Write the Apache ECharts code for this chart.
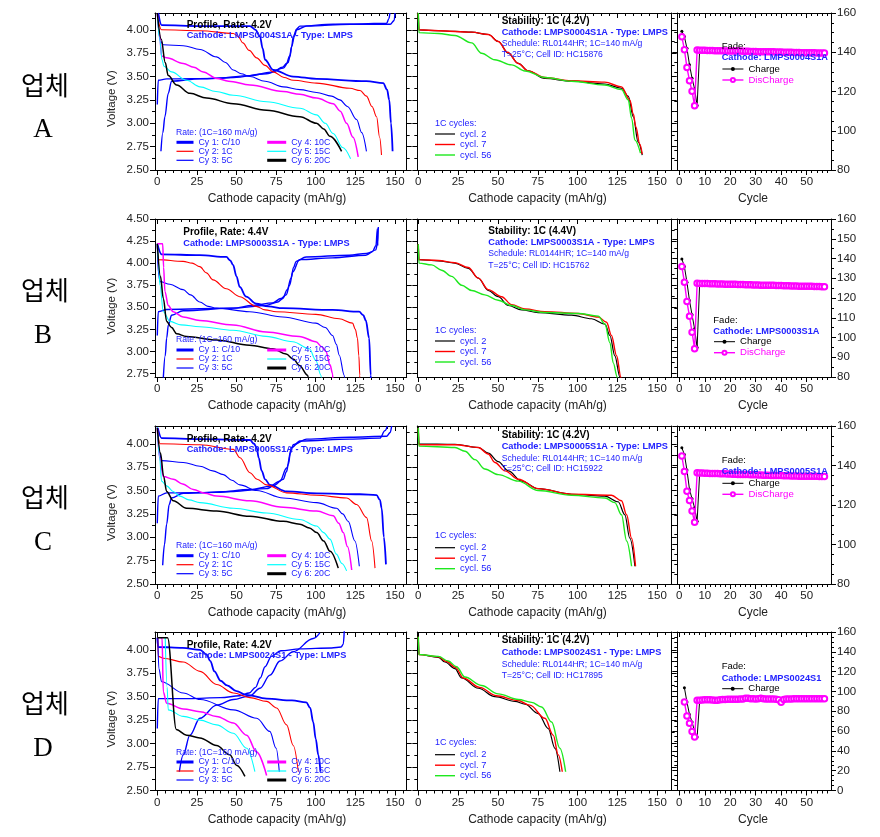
<!DOCTYPE html>
<html><head><meta charset="utf-8">
<script src="https://cdn.jsdelivr.net/npm/echarts@6/dist/echarts.min.js"></script>
<style>html,body{margin:0;padding:0;background:#fff}#c{width:880px;height:837px}</style>
</head><body><div id="c"></div><script>
// ================= DATA =================
const profileNames = ['Cy 1: C/10','Cy 2: 1C','Cy 3: 5C','Cy 4: 10C','Cy 5: 15C','Cy 6: 20C'];
const stabilityNames = ['cycl. 2','cycl. 7','cycl. 56'];
const fadeNames = ['Charge','DisCharge'];
const rowLetters = ['A','B','C','D'];
const cathodes = ['LMPS0004S1A','LMPS0003S1A','LMPS0005S1A','LMPS0024S1'];
const rateV = ['4.2V','4.4V','4.2V','4.2V'];
const cellIds = ['HC15876','HC15762','HC15922','HC17895'];
const xTicksCap = [0,25,50,75,100,125,150];
const yTicksV_A = [2.50,2.75,3.00,3.25,3.50,3.75,4.00];
const yTicksV_B = [2.75,3.00,3.25,3.50,3.75,4.00,4.25,4.50];
const xTicksCycle = [0,10,20,30,40,50];
const yTicksFade_A = [80,100,120,140,160];
const yTicksFade_B = [80,90,100,110,120,130,140,150,160];
const yTicksFade_D = [0,20,40,60,80,100,120,140,160];

// ---- Row A profile ----
const A_cy1_dis = [[0.6,4.18],[2.7,4.05],[27,4.04],[58.5,4.04],[62,4.0],[64.8,3.93],[66.5,3.8],[68,3.68],[73.2,3.57],[85.8,3.50],[100.5,3.475],[132,3.45],[142.6,3.43],[145,3.36],[146.4,3.25],[147.5,3.0],[148.5,2.70]];
const A_cy1_chg = [[0,3.20],[0.6,3.46],[5.9,3.475],[37.4,3.48],[58.5,3.51],[73.2,3.55],[79,3.60],[81.6,3.64],[83.5,3.72],[84.8,3.82],[86.5,3.93],[88,4.0],[94.2,4.04],[121.6,4.06],[144.7,4.07],[146.2,4.12],[146.8,4.18]];
const A_cy3_chg = [[2.3,2.70],[3.5,2.9],[4.8,3.07],[6.9,3.32],[9,3.45],[27,3.475],[48,3.49],[69,3.53],[79.5,3.59],[82.5,3.65],[83.7,3.71],[84.8,3.82],[85.8,3.93],[88,4.01],[90,4.04],[111,4.06],[147,4.06],[149.5,4.1],[150,4.18]];
const A_cy2 = [[0.3,4.12],[2.7,4.0],[27,3.99],[48,3.96],[51,3.93],[54,3.86],[58,3.78],[62.7,3.70],[68,3.62],[73.2,3.55],[80,3.49],[85.8,3.46],[100.5,3.43],[121.6,3.375],[128,3.35],[132,3.29],[135.5,3.18],[138.4,3.07],[140.3,2.85],[141.5,2.66]];
const A_cy3 = [[0.3,4.1],[2,3.88],[3.8,3.84],[16.4,3.83],[27,3.79],[37.4,3.71],[43,3.65],[48,3.57],[53,3.53],[58.5,3.50],[68,3.45],[79.5,3.39],[90,3.36],[100.5,3.33],[110,3.29],[115.2,3.25],[120,3.18],[125.8,3.04],[129,2.9],[132,2.70]];
const A_cy4 = [[0,4.18],[1.5,3.95],[2.7,3.72],[5.9,3.70],[16.4,3.64],[23,3.60],[29,3.55],[37.4,3.48],[45,3.45],[58.5,3.41],[79.5,3.34],[90,3.31],[100.5,3.27],[111,3.21],[115.5,3.13],[119.5,3.0],[123.5,2.85],[126.8,2.64]];
const A_cy5 = [[0,4.18],[1.5,3.9],[3,3.68],[4.2,3.61],[9,3.55],[18.5,3.46],[27,3.39],[37,3.34],[48,3.30],[69,3.23],[90,3.16],[100.5,3.09],[106,3.0],[111,2.89],[117,2.74],[122,2.62]];
const A_cy6 = [[0,4.18],[2.5,3.9],[5,3.65],[6.9,3.51],[12.2,3.41],[20.6,3.32],[31.1,3.27],[48,3.21],[69,3.14],[90,3.07],[100.5,3.0],[105,2.94],[109,2.86],[116.3,2.70]];
// ---- Row A stability ----
const A_s2 = [[0,4.18],[0.4,4.0],[12.6,3.99],[33.5,3.975],[44,3.95],[50.2,3.875],[56.5,3.75],[62.8,3.64],[69,3.56],[79.5,3.48],[96.2,3.45],[117,3.42],[127.6,3.375],[131.8,3.29],[135,3.07],[138,2.80],[140.6,2.66]];
const A_s7 = [[0,4.18],[0.4,4.0],[12.6,3.99],[33.5,3.975],[44,3.95],[50.2,3.875],[56,3.76],[62.8,3.64],[69,3.56],[79.5,3.49],[96.2,3.455],[117,3.44],[127.6,3.39],[132.8,3.25],[135,3.10],[136.6,2.96],[139,2.78],[140.6,2.67]];
const A_s56 = [[0,4.18],[0.4,3.97],[12.6,3.96],[23,3.94],[33.5,3.86],[39.7,3.75],[48,3.68],[58.6,3.625],[67,3.56],[79.5,3.49],[96.2,3.45],[117,3.41],[127.6,3.36],[131.8,3.25],[134,3.05],[136,2.82],[139.5,2.68]];
// ---- Row A fade (cycles 1..57) ----
const A_fadeStart = 1;
const A_chg = [150.7,148.0,142.0,133.6,126.8,121.3,112.9,141.2,
 141.1,141.1,141.0,141.0,141.0,140.9,140.9,140.9,140.8,140.8,
 140.8,140.8,140.7,140.7,140.7,140.6,140.6,140.6,140.6,140.5,
 140.5,140.5,140.4,140.4,140.4,140.4,140.3,140.3,140.3,140.2,
 140.2,140.2,140.1,140.1,140.1,140.0,140.0,140.0,139.9,139.9,
 139.9,139.9,139.8,139.8,139.8,139.7,139.7,139.7,139.7];
const A_dis = [147.9,141.3,132.2,125.5,120.1,112.7,141.1,
 141.0,141.0,141.0,140.9,140.9,140.9,140.8,140.8,140.8,140.8,
 140.7,140.7,140.7,140.6,140.6,140.6,140.6,140.5,140.5,140.5,
 140.4,140.4,140.4,140.3,140.3,140.3,140.3,140.2,140.2,140.2,
 140.1,140.1,140.1,140.0,140.0,140.0,140.0,139.9,139.9,139.9,
 139.8,139.8,139.8,139.7,139.7,139.7,139.6,139.6,139.6,139.6];

// ---- Row B profile ----
const B_cy1_dis = [[0,4.22],[2.7,4.10],[26.8,4.09],[43.6,4.07],[46,4.03],[47.8,3.98],[50,3.85],[52,3.73],[56.1,3.62],[62.4,3.54],[70,3.51],[79.2,3.49],[110.6,3.47],[127.4,3.45],[130,3.41],[131.6,3.35],[133.7,3.15],[134.7,2.73],[135,2.6]];
const B_cy1_chg = [[0,3.18],[0.6,3.45],[5.9,3.475],[47.8,3.49],[68.7,3.52],[76,3.56],[79.2,3.60],[82,3.70],[84.4,3.83],[86,3.95],[87.6,4.02],[93.9,4.07],[121.1,4.09],[132,4.11],[135.8,4.13],[138,4.2],[138.9,4.39],[139.1,4.2]];
const B_cy3_chg = [[3.8,2.70],[5,2.95],[5.9,3.15],[7,3.3],[9,3.41],[16.3,3.46],[47.8,3.49],[60,3.52],[72.9,3.55],[78,3.60],[81.3,3.64],[83.5,3.75],[85.5,3.90],[89.7,4.04],[110.6,4.06],[131.6,4.09],[137.9,4.15],[139.2,4.25],[139.5,4.41]];
const B_cy2 = [[0,4.2],[0.6,4.04],[16.3,4.02],[22,4.0],[26.8,3.96],[31,3.89],[35.2,3.81],[43.6,3.71],[52,3.62],[62.4,3.51],[68,3.47],[75,3.45],[100.1,3.42],[114.8,3.37],[123.2,3.32],[125,3.25],[126.3,3.15],[127.2,2.95],[127.8,2.73],[128,2.6]];
const B_cy3 = [[0,4.2],[0.6,3.90],[1.7,3.79],[8,3.76],[16.3,3.70],[21,3.64],[26.8,3.56],[32,3.51],[37.3,3.49],[58.2,3.45],[79.2,3.39],[100.1,3.32],[106,3.27],[110.6,3.18],[113,3.08],[114.8,2.96],[118,2.73],[118.5,2.6]];
const B_cy4 = [[0,4.22],[3.4,4.22],[4.0,3.95],[4.8,3.68],[6.9,3.52],[10,3.45],[16.3,3.39],[26.8,3.35],[47.8,3.30],[68.7,3.22],[89.7,3.17],[100.1,3.11],[104,3.05],[106.4,3.0],[109,2.85],[110.6,2.75],[111,2.6]];
const B_cy5 = [[0,4.21],[0.8,4.0],[1.7,3.75],[3.8,3.45],[8,3.34],[15,3.30],[26.8,3.28],[47.8,3.24],[68.7,3.17],[85.5,3.11],[96,3.03],[100,2.9],[103.3,2.73],[104,2.6]];
const B_cy6 = [[0,4.22],[2,3.85],[3.8,3.60],[5.9,3.34],[9,3.27],[12.2,3.20],[18.4,3.17],[37.3,3.13],[58.2,3.07],[72.9,3.03],[81.3,2.97],[86,2.91],[89.7,2.84],[94.9,2.73],[96,2.6]];
// ---- Row B stability ----
const B_s2 = [[0,4.215],[0.4,4.04],[12.6,4.025],[23,4.0],[31.4,3.94],[37.7,3.83],[43.9,3.69],[50.2,3.62],[56.5,3.52],[64.9,3.47],[75.3,3.44],[96.2,3.41],[108.8,3.37],[117.2,3.31],[120.3,3.18],[123.4,2.95],[126.6,2.71],[127,2.6]];
const B_s7 = [[0,4.215],[0.4,4.04],[12.6,4.03],[23,4.005],[31.4,3.95],[37.7,3.83],[43.9,3.70],[52.3,3.62],[58.6,3.53],[67,3.48],[79.5,3.45],[100.4,3.43],[113,3.39],[118.2,3.33],[121.3,3.18],[124.5,2.95],[127.2,2.71],[127.6,2.6]];
const B_s56 = [[0,4.215],[0.4,4.0],[8.4,3.98],[14.6,3.92],[20.9,3.85],[27.2,3.75],[33.5,3.69],[41.8,3.64],[50.2,3.58],[58.6,3.52],[67,3.47],[79.5,3.44],[100.4,3.43],[113,3.40],[117.2,3.31],[120.3,3.10],[122.4,2.87],[124.9,2.71],[125.3,2.6]];
// ---- Row B fade ----
const B_fadeStart = 1;
const B_chg = [139.8,135.9,128.0,118.7,111.5,104.4,95.0,127.5,
 127.4,127.4,127.3,127.3,127.3,127.2,127.2,127.2,127.1,127.1,
 127.1,127.0,127.0,127.0,126.9,126.9,126.9,126.8,126.8,126.8,
 126.7,126.7,126.7,126.6,126.6,126.6,126.5,126.5,126.5,126.4,
 126.4,126.4,126.3,126.3,126.3,126.2,126.2,126.2,126.1,126.1,
 126.1,126.0,126.0,126.0,125.9,125.9,125.9,125.8,125.8];
const B_dis = [135.9,128.0,118.2,110.7,102.7,94.3,127.5,
 127.4,127.4,127.3,127.3,127.2,127.2,127.2,127.1,127.1,127.1,
 127.0,127.0,126.9,126.9,126.9,126.8,126.8,126.8,126.7,126.7,
 126.7,126.6,126.6,126.6,126.5,126.5,126.5,126.4,126.4,126.4,
 126.3,126.3,126.3,126.2,126.2,126.2,126.1,126.1,126.1,126.0,
 126.0,126.0,125.9,125.9,125.9,125.8,125.8,125.8,125.7,125.7];

// ---- Row C profile ----
const C_cy1_dis = [[0.3,4.17],[2.7,4.06],[26.9,4.05],[58.5,4.04],[61,4.0],[62.7,3.96],[64,3.85],[65.9,3.71],[68,3.62],[71.1,3.56],[81.6,3.49],[100.6,3.47],[127.9,3.46],[138.4,3.45],[140.5,3.40],[141.6,3.31],[143,3.0],[144.3,2.71]];
const C_cy1_chg = [[0,3.15],[0.6,3.44],[5.9,3.475],[37.4,3.48],[58.5,3.51],[73.2,3.55],[79.5,3.62],[81.5,3.70],[82.7,3.78],[84,3.90],[85.8,3.99],[94.3,4.05],[121.6,4.07],[144.7,4.08],[147,4.12],[147.9,4.19]];
const C_cy3_chg = [[3.4,2.70],[4.5,2.92],[5.9,3.14],[7.5,3.35],[9,3.42],[16.4,3.47],[48,3.49],[69,3.52],[77.4,3.60],[81.6,3.74],[84.8,3.96],[90,4.03],[121.6,4.05],[140.5,4.06],[143.7,4.14],[145.2,4.19]];
const C_cy2 = [[0.3,4.12],[1.7,4.0],[26.9,3.99],[48,3.94],[52.2,3.85],[58.5,3.69],[63,3.62],[69,3.56],[81.6,3.475],[100.6,3.45],[119.5,3.42],[125.8,3.35],[132.1,3.21],[135.3,2.96],[137.4,2.67]];
const C_cy3 = [[0.3,4.1],[1.5,3.9],[2.7,3.82],[16.4,3.80],[26.9,3.76],[35,3.71],[41.7,3.67],[47,3.61],[52.2,3.56],[62.7,3.50],[79.5,3.42],[100.6,3.37],[113.2,3.31],[117,3.25],[120.5,3.17],[124.7,2.96],[127.5,2.69]];
const C_cy4 = [[0,4.18],[1.5,3.85],[3.8,3.65],[10.1,3.62],[16,3.57],[22.7,3.51],[30,3.47],[37.4,3.44],[58.5,3.39],[79.5,3.32],[100.6,3.28],[111,3.23],[114.5,3.15],[117.4,3.05],[120,2.9],[122.7,2.65]];
const C_cy5 = [[0,4.18],[1.5,3.85],[2.7,3.60],[5.9,3.55],[10,3.49],[14.3,3.44],[20,3.40],[26.9,3.37],[48,3.31],[69,3.26],[90,3.19],[100.6,3.12],[105,3.05],[109,2.98],[113,2.82],[116.5,2.72],[119.5,2.64]];
const C_cy6 = [[0,4.17],[2,3.9],[4,3.65],[5.9,3.49],[10.1,3.39],[18.5,3.31],[37.4,3.28],[58.5,3.225],[79.5,3.17],[90,3.14],[96,3.1],[100.6,3.05],[105,2.96],[109,2.85],[114.2,2.67]];
// ---- Row C stability ----
const C_s2 = [[0,4.17],[0.4,4.0],[23,3.995],[37.7,3.96],[43.9,3.90],[50.2,3.81],[56.5,3.71],[64.9,3.60],[75.3,3.52],[96.2,3.46],[117.2,3.44],[125.5,3.38],[129.7,3.24],[132.8,2.99],[136,2.69]];
const C_s7 = [[0,4.17],[0.4,3.99],[23,3.99],[37.7,3.96],[43.9,3.89],[48.1,3.80],[54.4,3.71],[62.8,3.62],[75.3,3.52],[96.2,3.46],[121.3,3.45],[127.6,3.39],[130.8,3.24],[133.9,2.99],[136.4,2.69]];
const C_s56 = [[0,4.17],[0.4,3.975],[23,3.96],[29.3,3.92],[35.6,3.83],[41.8,3.73],[50.2,3.67],[62.8,3.60],[75.3,3.50],[96.2,3.45],[117.2,3.42],[123.4,3.37],[127.6,3.24],[130.8,2.96],[133.9,2.69]];
// ---- Row C fade ----
const C_fadeStart = 1;
const C_chg = [149.0,145.6,137.7,127.9,123.2,118.6,111.8,136.3,
 136.3,136.2,136.2,136.1,136.1,136.0,136.0,135.9,135.9,135.9,
 135.8,135.8,135.7,135.7,135.6,135.6,135.6,135.5,135.5,135.4,
 135.4,135.4,135.3,135.3,135.2,135.2,135.2,135.1,135.1,135.0,
 135.0,135.0,134.9,134.9,134.9,134.8,134.8,134.8,134.7,134.7,
 134.7,134.7,134.6,134.6,134.6,134.6,134.5,134.5,134.5];
const C_dis = [144.8,137.0,126.9,122.3,116.9,111.3,136.3,
 136.2,136.2,136.1,136.1,136.0,136.0,135.9,135.9,135.8,135.8,
 135.8,135.7,135.7,135.6,135.6,135.5,135.5,135.5,135.4,135.4,
 135.3,135.3,135.3,135.2,135.2,135.1,135.1,135.1,135.0,135.0,
 134.9,134.9,134.9,134.8,134.8,134.8,134.7,134.7,134.7,134.6,
 134.6,134.6,134.6,134.5,134.5,134.5,134.5,134.4,134.4,134.4];

// ---- Row D profile ----
const D_cy1_dis = [[0,4.13],[0.5,4.03],[16,4.02],[27,4.0],[31,3.95],[33.5,3.88],[36,3.77],[40,3.67],[44,3.62],[50,3.56],[56,3.52],[69,3.48],[85,3.46],[94,3.44],[96.5,3.38],[98.4,3.23],[100,3.05],[101.6,2.88],[103,2.70]];
const D_cy1_chg = [[0,3.16],[0.6,3.48],[20,3.48],[40,3.49],[52,3.51],[58,3.54],[62,3.60],[65,3.70],[68,3.82],[72,3.93],[78,3.99],[90,4.01],[110,4.02],[116,4.03],[117.4,4.06],[118,4.2]];
const D_cy3_chg = [[13.9,2.70],[16.4,2.88],[20.6,3.09],[26.9,3.27],[37.4,3.41],[48,3.47],[58.5,3.51],[64.8,3.59],[71.1,3.73],[77.4,3.88],[85.8,3.98],[98.4,4.12],[102.6,4.18]];
const D_cy2 = [[0.3,4.13],[0.6,3.93],[3.8,3.91],[16.4,3.87],[27,3.77],[37.4,3.63],[48,3.54],[58.5,3.49],[69,3.45],[75.3,3.38],[81.6,3.20],[85.8,2.98],[89,2.70]];
const D_cy3 = [[0.3,4.13],[1,3.8],[2.7,3.66],[16.4,3.54],[27,3.47],[48,3.36],[62.7,3.27],[71,3.13],[75,2.95],[77,2.70]];
const D_cy4 = [[2,4.13],[3,4.13],[3.8,3.55],[5.9,3.43],[16.4,3.37],[26.9,3.34],[37.4,3.29],[48,3.22],[56.4,3.09],[62.7,2.91],[69,2.66]];
const D_cy5 = [[5,4.13],[6.2,3.6],[6.9,3.36],[16.4,3.29],[26.9,3.25],[37.4,3.20],[48,3.11],[56.4,2.95],[61.6,2.70]];
const D_cy6 = [[0,4.13],[6.5,4.13],[12,3.15],[18.5,3.09],[26.9,3.06],[37.4,2.98],[45.8,2.88],[50,2.77],[55.3,2.65]];
// ---- Row D stability ----
const D_s2 = [[0,4.14],[0.4,3.95],[12.6,3.92],[16.7,3.87],[23,3.80],[27.2,3.70],[37.7,3.59],[48.1,3.50],[60.7,3.45],[67,3.42],[75.3,3.32],[81.6,3.16],[85.8,2.95],[88.9,2.70]];
const D_s7 = [[0,4.14],[0.4,3.95],[12.6,3.925],[17.8,3.875],[23.5,3.81],[28.2,3.70],[38.5,3.60],[49,3.51],[62.5,3.46],[70.1,3.41],[79.5,3.27],[84.7,3.09],[87.9,2.88],[90.4,2.70]];
const D_s56 = [[0,4.14],[0.4,3.95],[12.6,3.93],[18.8,3.88],[24,3.82],[29.3,3.71],[39.7,3.62],[50.2,3.53],[62.8,3.47],[71.1,3.44],[77.4,3.39],[83.7,3.23],[88.9,2.95],[92.5,2.70]];
// ---- Row D fade (cycles 2..57) ----
const D_fadeStart = 2;
const D_chg = [103.8,89.3,76.8,69.1,60.0,53.9,91.0,
 91.2,91.4,91.5,91.6,91.6,91.5,91.3,91.4,91.7,91.9,
 92.0,92.1,92.1,92.2,92.2,92.3,92.3,92.6,93.2,92.8,
 92.5,92.4,92.6,93.1,92.8,92.4,92.3,92.5,92.4,92.3,
 92.0,91.2,92.0,92.3,92.4,92.4,92.5,92.5,92.5,92.6,
 92.6,92.6,92.6,92.6,92.7,92.7,92.7,92.7,92.7];
const D_dis = [89.3,75.1,68.0,59.6,53.9,91.0,
 91.1,91.3,91.5,91.6,91.6,91.4,91.0,91.2,91.6,91.8,
 91.9,92.0,92.1,92.1,92.2,92.2,92.3,92.4,93.0,93.2,
 92.7,92.5,92.4,92.7,93.2,92.6,92.4,92.3,92.4,92.3,
 92.2,91.5,89.2,91.8,92.3,92.3,92.4,92.5,92.5,92.5,
 92.6,92.6,92.6,92.6,92.7,92.7,92.7,92.7,92.7,92.7];

// ================= STYLE / LAYOUT =================
const FONT = "'Liberation Sans', Arial, sans-serif";
const TXT_BLUE = '#2222ff';
const profStyles = [
  {c:'#0000ff', w:1.8},{c:'#ff0000', w:1.1},{c:'#0000ff', w:1.1},
  {c:'#ff00ff', w:1.5},{c:'#00ffff', w:1.1},{c:'#000000', w:1.5}];
const chargeWidth = 1.4;
const stabStyles = [{c:'#000000', w:1.2},{c:'#ff0000', w:1.4},{c:'#1ee81e', w:1.4}];

const rows = [
  {top:13,  height:157, vmin:2.5,  vmax:4.18, vTicks:yTicksV_A, fmin:80, fmax:160, fTicks:yTicksFade_A,
   prof:[A_cy1_dis,A_cy2,A_cy3,A_cy4,A_cy5,A_cy6], chg:[A_cy1_chg,A_cy3_chg], stab:[A_s2,A_s7,A_s56],
   fadeStart:A_fadeStart, fchg:A_chg, fdis:A_dis},
  {top:219, height:158, vmin:2.71, vmax:4.5, vTicks:yTicksV_B, fmin:80, fmax:160, fTicks:yTicksFade_B,
   prof:[B_cy1_dis,B_cy2,B_cy3,B_cy4,B_cy5,B_cy6], chg:[B_cy1_chg,B_cy3_chg], stab:[B_s2,B_s7,B_s56],
   fadeStart:B_fadeStart, fchg:B_chg, fdis:B_dis},
  {top:426, height:158, vmin:2.5, vmax:4.19, vTicks:yTicksV_A, fmin:80, fmax:160, fTicks:yTicksFade_A,
   prof:[C_cy1_dis,C_cy2,C_cy3,C_cy4,C_cy5,C_cy6], chg:[C_cy1_chg,C_cy3_chg], stab:[C_s2,C_s7,C_s56],
   fadeStart:C_fadeStart, fchg:C_chg, fdis:C_dis},
  {top:632, height:158.5, vmin:2.5, vmax:4.19, vTicks:yTicksV_A, fmin:0, fmax:160, fTicks:yTicksFade_D,
   prof:[D_cy1_dis,D_cy2,D_cy3,D_cy4,D_cy5,D_cy6], chg:[D_cy1_chg,D_cy3_chg], stab:[D_s2,D_s7,D_s56],
   fadeStart:D_fadeStart, fchg:D_chg, fdis:D_dis}
];
const cols = {
  p:{left:155,   width:251.7, min:-1.45, max:157.4},
  s:{left:417.3, width:254.4, min:-0.63, max:159.1},
  f:{left:677.3, width:153.7, min:-0.79, max:59.57}
};
const txt = [
  {p:[186.7,25,35.7], rate:[176,132.3], pl:137.8, s:[501.7,21.7,32.7,44,54.3], cyc:[435,123.3], sl:129.5, f:[721.7,46.7,57.7], fl:63.5, vName:98.5, xName:198.3, lab:[85,130]},
  {p:[183.3,232.3,243.3], rate:[176,339.3], pl:345.5, s:[488.3,231,242.3,254,265.7], cyc:[435,331], sl:336.5, f:[713.3,320,331], fl:336.2, vName:306, xName:406, lab:[290,336]},
  {p:[186.7,439,449.3], rate:[176,546], pl:551.2, s:[501.7,435.7,446.7,458.3,468.3], cyc:[435,535.7], sl:543.2, f:[721.7,460,471.7], fl:477.8, vName:512.5, xName:612.3, lab:[497,543]},
  {p:[186.7,645.3,655.3], rate:[176,753], pl:757.5, s:[501.7,640.3,652.7,664.3,675.3], cyc:[435,742.7], sl:750.2, f:[721.7,666.3,678.7], fl:683.2, vName:719, xName:819.3, lab:[703,749]}
];

// ================= BUILD =================
const grids=[], xAxes=[], yAxes=[], series=[], legends=[], graphics=[];
function stepVals(min,max,step,exclude){
  const out=[]; const start=Math.ceil(min/step - 1e-9);
  for(let k=start; k*step<=max+1e-9; k++){ const v=+(k*step).toFixed(6); if(!exclude.some(m=>Math.abs(m-v)<1e-6)) out.push(v); }
  return out;
}
const AX = {color:'#000', width:1};
function addPanel(o){
  const gi=grids.length;
  grids.push({left:o.left, top:o.top, width:o.width, height:o.height, show:false});
  const xMinor=stepVals(o.xmin,o.xmax,o.xMinorStep,o.xMajor);
  const yMinor=stepVals(o.ymin,o.ymax,o.yMinorStep,o.yMajor);
  const cx={gridIndex:gi,type:'value',min:o.xmin,max:o.xmax,splitLine:{show:false}};
  const cy={gridIndex:gi,type:'value',min:o.ymin,max:o.ymax,splitLine:{show:false}};
  const lbl={fontSize:11.5,fontFamily:FONT,color:'#222',margin:6};
  const xi=xAxes.length, yi=yAxes.length;
  xAxes.push(Object.assign({},cx,{position:'bottom',axisLine:{show:true,onZero:false,lineStyle:AX},
    axisTick:{show:true,inside:false,length:5,customValues:o.xMajor,lineStyle:AX},
    axisLabel:Object.assign({show:true,customValues:o.xMajor},lbl)}));
  xAxes.push(Object.assign({},cx,{position:'bottom',axisLine:{show:false,onZero:false},
    axisTick:{show:true,inside:false,length:3,customValues:xMinor,lineStyle:AX},axisLabel:{show:false}}));
  xAxes.push(Object.assign({},cx,{position:'top',axisLine:{show:true,onZero:false,lineStyle:AX},
    axisTick:{show:true,inside:true,length:5,customValues:o.xMajor,lineStyle:AX},axisLabel:{show:false}}));
  xAxes.push(Object.assign({},cx,{position:'top',axisLine:{show:false,onZero:false},
    axisTick:{show:true,inside:true,length:3,customValues:xMinor,lineStyle:AX},axisLabel:{show:false}}));
  ['left','right'].forEach(side=>{
    const showLab = o.yLabelSide===side;
    yAxes.push(Object.assign({},cy,{position:side,axisLine:{show:true,onZero:false,lineStyle:AX},
      axisTick:{show:true,inside:false,length:5,customValues:o.yMajor,lineStyle:AX},
      axisLabel:showLab?Object.assign({show:true,customValues:o.yMajor,formatter:o.yFmt},lbl):{show:false}}));
    yAxes.push(Object.assign({},cy,{position:side,axisLine:{show:false,onZero:false},
      axisTick:{show:true,inside:false,length:3,customValues:yMinor,lineStyle:AX},axisLabel:{show:false}}));
  });
  return {xi, yi};
}
function lineSeries(name, data, ax, color, width, z){
  return {type:'line', name, data, xAxisIndex:ax.xi, yAxisIndex:ax.yi, showSymbol:false, symbol:'none',
    smooth:0.35, smoothMonotone:'x', clip:true, z:z||2,
    lineStyle:{color, width}, itemStyle:{color}};
}
function text(x,y,t,opt){
  const st=Object.assign({text:t, fill:'#000', fontSize:10, fontFamily:FONT, fontWeight:'normal',
    align:'left', verticalAlign:'middle', textAlign:'left', textVerticalAlign:'middle'}, opt||{});
  const el={type:'text', x, y, silent:true, style:st, z:100};
  graphics.push(el); return el;
}
const fmtV=v=>v.toFixed(2);
const fmtI=v=>String(Math.round(v));

rows.forEach((r,ri)=>{
  const T=txt[ri];
  const pa=addPanel({left:cols.p.left,width:cols.p.width,top:r.top,height:r.height,
    xmin:cols.p.min,xmax:cols.p.max,xMajor:xTicksCap,xMinorStep:5,
    ymin:r.vmin,ymax:r.vmax,yMajor:r.vTicks,yMinorStep:0.125,yLabelSide:'left',yFmt:fmtV});
  series.push(lineSeries(profileNames[0], r.chg[0], pa, profStyles[0].c, chargeWidth));
  series.push(lineSeries(profileNames[2], r.chg[1], pa, profStyles[2].c, chargeWidth));
  r.prof.forEach((d,k)=>series.push(lineSeries(profileNames[k], d, pa, profStyles[k].c, profStyles[k].w, 3)));
  const sa=addPanel({left:cols.s.left,width:cols.s.width,top:r.top,height:r.height,
    xmin:cols.s.min,xmax:cols.s.max,xMajor:xTicksCap,xMinorStep:5,
    ymin:r.vmin,ymax:r.vmax,yMajor:r.vTicks,yMinorStep:0.125,yLabelSide:null,yFmt:fmtV});
  r.stab.forEach((d,k)=>series.push(lineSeries(stabilityNames[k], d, sa, stabStyles[k].c, stabStyles[k].w, 3)));
  const fa=addPanel({left:cols.f.left,width:cols.f.width,top:r.top,height:r.height,
    xmin:cols.f.min,xmax:cols.f.max,xMajor:xTicksCycle,xMinorStep:2,
    ymin:r.fmin,ymax:r.fmax,yMajor:r.fTicks,yMinorStep:5,yLabelSide:'right',yFmt:fmtI});
  series.push({type:'line', name:fadeNames[0], data:r.fchg.map((v,i)=>[r.fadeStart+i,v]),
    xAxisIndex:fa.xi, yAxisIndex:fa.yi, symbol:'circle', symbolSize:3, showSymbol:true,
    lineStyle:{color:'#000',width:1}, itemStyle:{color:'#000'}, z:3});
  series.push({type:'line', name:fadeNames[1], data:r.fdis.map((v,i)=>[r.fadeStart+i,v]),
    xAxisIndex:fa.xi, yAxisIndex:fa.yi, symbol:'emptyCircle', symbolSize:5.5, showSymbol:true,
    lineStyle:{color:'#ff00ff',width:1.4}, itemStyle:{color:'#ff00ff',borderColor:'#ff00ff',borderWidth:1.3}, z:4});

  const cath = 'Cathode: '+cathodes[ri];
  text(T.p[0],T.p[1],'Profile, Rate: '+rateV[ri],{fontWeight:'bold',fontSize:10});
  text(T.p[0],T.p[2],cath+' - Type: LMPS',{fontWeight:'bold',fontSize:9.2,fill:TXT_BLUE});
  text(T.rate[0],T.rate[1],'Rate: (1C=160 mA/g)',{fontSize:8.6,fill:TXT_BLUE});
  text(T.s[0],T.s[1],'Stability: 1C ('+rateV[ri]+')',{fontWeight:'bold',fontSize:10});
  text(T.s[0],T.s[2],cath+' - Type: LMPS',{fontWeight:'bold',fontSize:9.2,fill:TXT_BLUE});
  text(T.s[0],T.s[3],'Schedule: RL0144HR; 1C=140 mA/g',{fontSize:8.6,fill:TXT_BLUE});
  text(T.s[0],T.s[4],'T=25°C; Cell ID: '+cellIds[ri],{fontSize:8.6,fill:TXT_BLUE});
  text(T.cyc[0],T.cyc[1],'1C cycles:',{fontSize:9,fill:TXT_BLUE});
  text(T.f[0],T.f[1],'Fade:',{fontSize:9.5});
  text(T.f[0],T.f[2],cath,{fontWeight:'bold',fontSize:9.2,fill:TXT_BLUE});
  text(111.7,T.vName,'Voltage (V)',{fontSize:11.5,fill:'#222',align:'center',textAlign:'center'}).rotation=Math.PI/2;
  text(277,T.xName,'Cathode capacity (mAh/g)',{fontSize:12,fill:'#222',align:'center',textAlign:'center'});
  text(537.5,T.xName,'Cathode capacity (mAh/g)',{fontSize:12,fill:'#222',align:'center',textAlign:'center'});
  text(753,T.xName,'Cycle',{fontSize:12,fill:'#222',align:'center',textAlign:'center'});
  text(45,T.lab[0],'업체',{fontSize:26,fontFamily:"'Noto Sans CJK KR', sans-serif",align:'center',textAlign:'center'});
  text(43,T.lab[1],rowLetters[ri],{fontSize:27,fontFamily:"'Liberation Serif', serif",align:'center',textAlign:'center'});

  const legBase={orient:'vertical',padding:0,selectedMode:false,itemGap:0,itemHeight:8,
    textStyle:{fontSize:8.8,fontFamily:FONT,color:TXT_BLUE,lineHeight:9}};
  const hidden={opacity:0};
  const pItem=(k)=>({name:profileNames[k], itemStyle:hidden, lineStyle:{width:(k===0||k===3||k===5)?3:1.2}, textStyle:{color:TXT_BLUE}});
  legends.push(Object.assign({},legBase,{left:175,top:T.pl,itemWidth:17,data:[pItem(0),pItem(1),pItem(2)]}));
  legends.push(Object.assign({},legBase,{left:265.7,top:T.pl,itemWidth:19,data:[pItem(3),pItem(4),pItem(5)]}));
  legends.push(Object.assign({},legBase,{left:434.3,top:T.sl,itemWidth:20,itemGap:1.5,itemHeight:9,
    data:stabilityNames.map((n,k)=>({name:n,itemStyle:hidden,lineStyle:{width:stabStyles[k].w},textStyle:{color:TXT_BLUE}})),
    textStyle:{fontSize:9.3,fontFamily:FONT,color:TXT_BLUE,lineHeight:9}}));
  const fItems=[{name:fadeNames[0],textStyle:{color:'#000'},lineStyle:{width:1}}];
  if(ri<3) fItems.push({name:fadeNames[1],textStyle:{color:'#ff00ff'},lineStyle:{width:1.4}});
  legends.push(Object.assign({},legBase,{left:T.f[0],top:T.fl,itemWidth:21,itemHeight:5,itemGap:0,
    data:fItems,textStyle:{fontSize:9.6,fontFamily:FONT,color:'#000',lineHeight:11}}));
});

const chart=echarts.init(document.getElementById('c'),null,{renderer:'canvas'});
chart.setOption({animation:false, backgroundColor:'#fff',
  grid:grids, xAxis:xAxes, yAxis:yAxes, series, legend:legends,
  graphic:{elements:graphics}});
</script></body></html>
